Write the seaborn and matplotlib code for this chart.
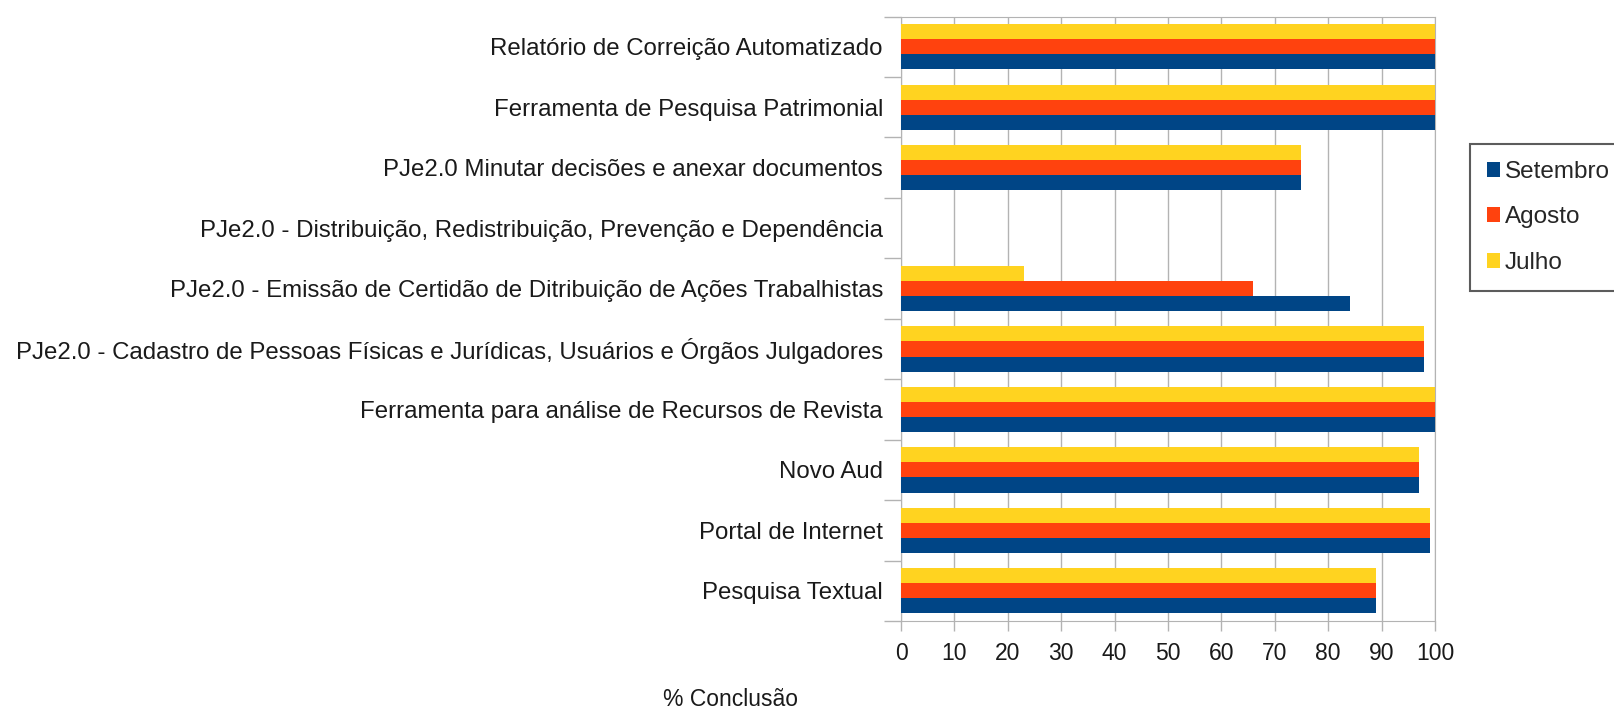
import matplotlib
matplotlib.use("Agg")
import matplotlib.pyplot as plt
import pandas as pd
import seaborn as sns
from matplotlib.patches import Patch

# Values (% conclusion per project and month)
projects = [
    'Relatório de Correição Automatizado',
    'Ferramenta de Pesquisa Patrimonial',
    'PJe2.0 Minutar decisões e anexar documentos',
    'PJe2.0 - Distribuição, Redistribuição, Prevenção e Dependência',
    'PJe2.0 - Emissão de Certidão de Ditribuição de Ações Trabalhistas',
    'PJe2.0 - Cadastro de Pessoas Físicas e Jurídicas, Usuários e Órgãos Julgadores',
    'Ferramenta para análise de Recursos de Revista',
    'Novo Aud',
    'Portal de Internet',
    'Pesquisa Textual',
]
setembro = [100, 100, 75, 0, 84, 98, 100, 97, 99, 89]
agosto = [100, 100, 75, 0, 66, 98, 100, 97, 99, 89]
julho = [100, 100, 75, 0, 23, 98, 100, 97, 99, 89]
months = ['Setembro', 'Agosto', 'Julho']
colors = {'Setembro': '#004586', 'Agosto': '#ff420e', 'Julho': '#ffd320'}

df = pd.DataFrame({'Projeto': projects, 'Setembro': setembro,
                   'Agosto': agosto, 'Julho': julho})
df_long = df.melt(id_vars='Projeto', var_name='Mes', value_name='Conclusao')

sns.set_style('white')
plt.rcParams['font.family'] = ['Liberation Sans', 'DejaVu Sans']

fig = plt.figure(figsize=(16.15, 7.12), dpi=100)
ax = fig.add_axes([0.5579, 0.1278, 0.3306, 0.849])

sns.barplot(data=df_long, x='Conclusao', y='Projeto', hue='Mes',
            hue_order=['Julho', 'Agosto', 'Setembro'], order=projects,
            palette=colors, orient='h', width=0.75, saturation=1,
            linewidth=0, errorbar=None, ax=ax, legend=False, zorder=3)

ax.set_xlim(0, 100)
ax.set_xticks(range(0, 101, 10))
ax.set_xlabel('')
ax.set_ylabel('')
ax.grid(axis='x', color='#b3b3b3', linewidth=1, zorder=0)
ax.set_axisbelow(True)
for s in ax.spines.values():
    s.set_color('#b3b3b3')
    s.set_visible(True)

# category ticks between groups
ax.set_yticks(range(len(projects)))
ax.set_yticklabels(projects, fontsize=17.3, color='#1a1a1a')
ax.set_yticks([i - 0.5 for i in range(len(projects) + 1)], minor=True)
ax.tick_params(axis='y', which='major', length=0, pad=13)
ax.tick_params(axis='y', which='minor', left=True, length=12.5, color='#b3b3b3', width=1)
ax.tick_params(axis='x', bottom=True, length=7, color='#b3b3b3', width=1,
               labelsize=16.5, labelcolor='#1a1a1a', pad=8)

handles = [Patch(facecolor=colors[m], edgecolor='none', label=m) for m in months]
leg = fig.legend(handles=handles, loc='upper left', bbox_to_anchor=(0.910, 0.798),
                 fontsize=17.5, frameon=True, fancybox=False, handlelength=0.55,
                 handleheight=0.55, handletextpad=0.2, labelspacing=0.97,
                 borderpad=0.7, borderaxespad=0)
leg.get_frame().set_edgecolor('#333333')
leg.get_frame().set_linewidth(1.5)

fig.text(0.4526, 0.0169, '% Conclusão', fontsize=16.5, ha='center', va='center', color='#1a1a1a')

fig.savefig('out.png', dpi=100)
